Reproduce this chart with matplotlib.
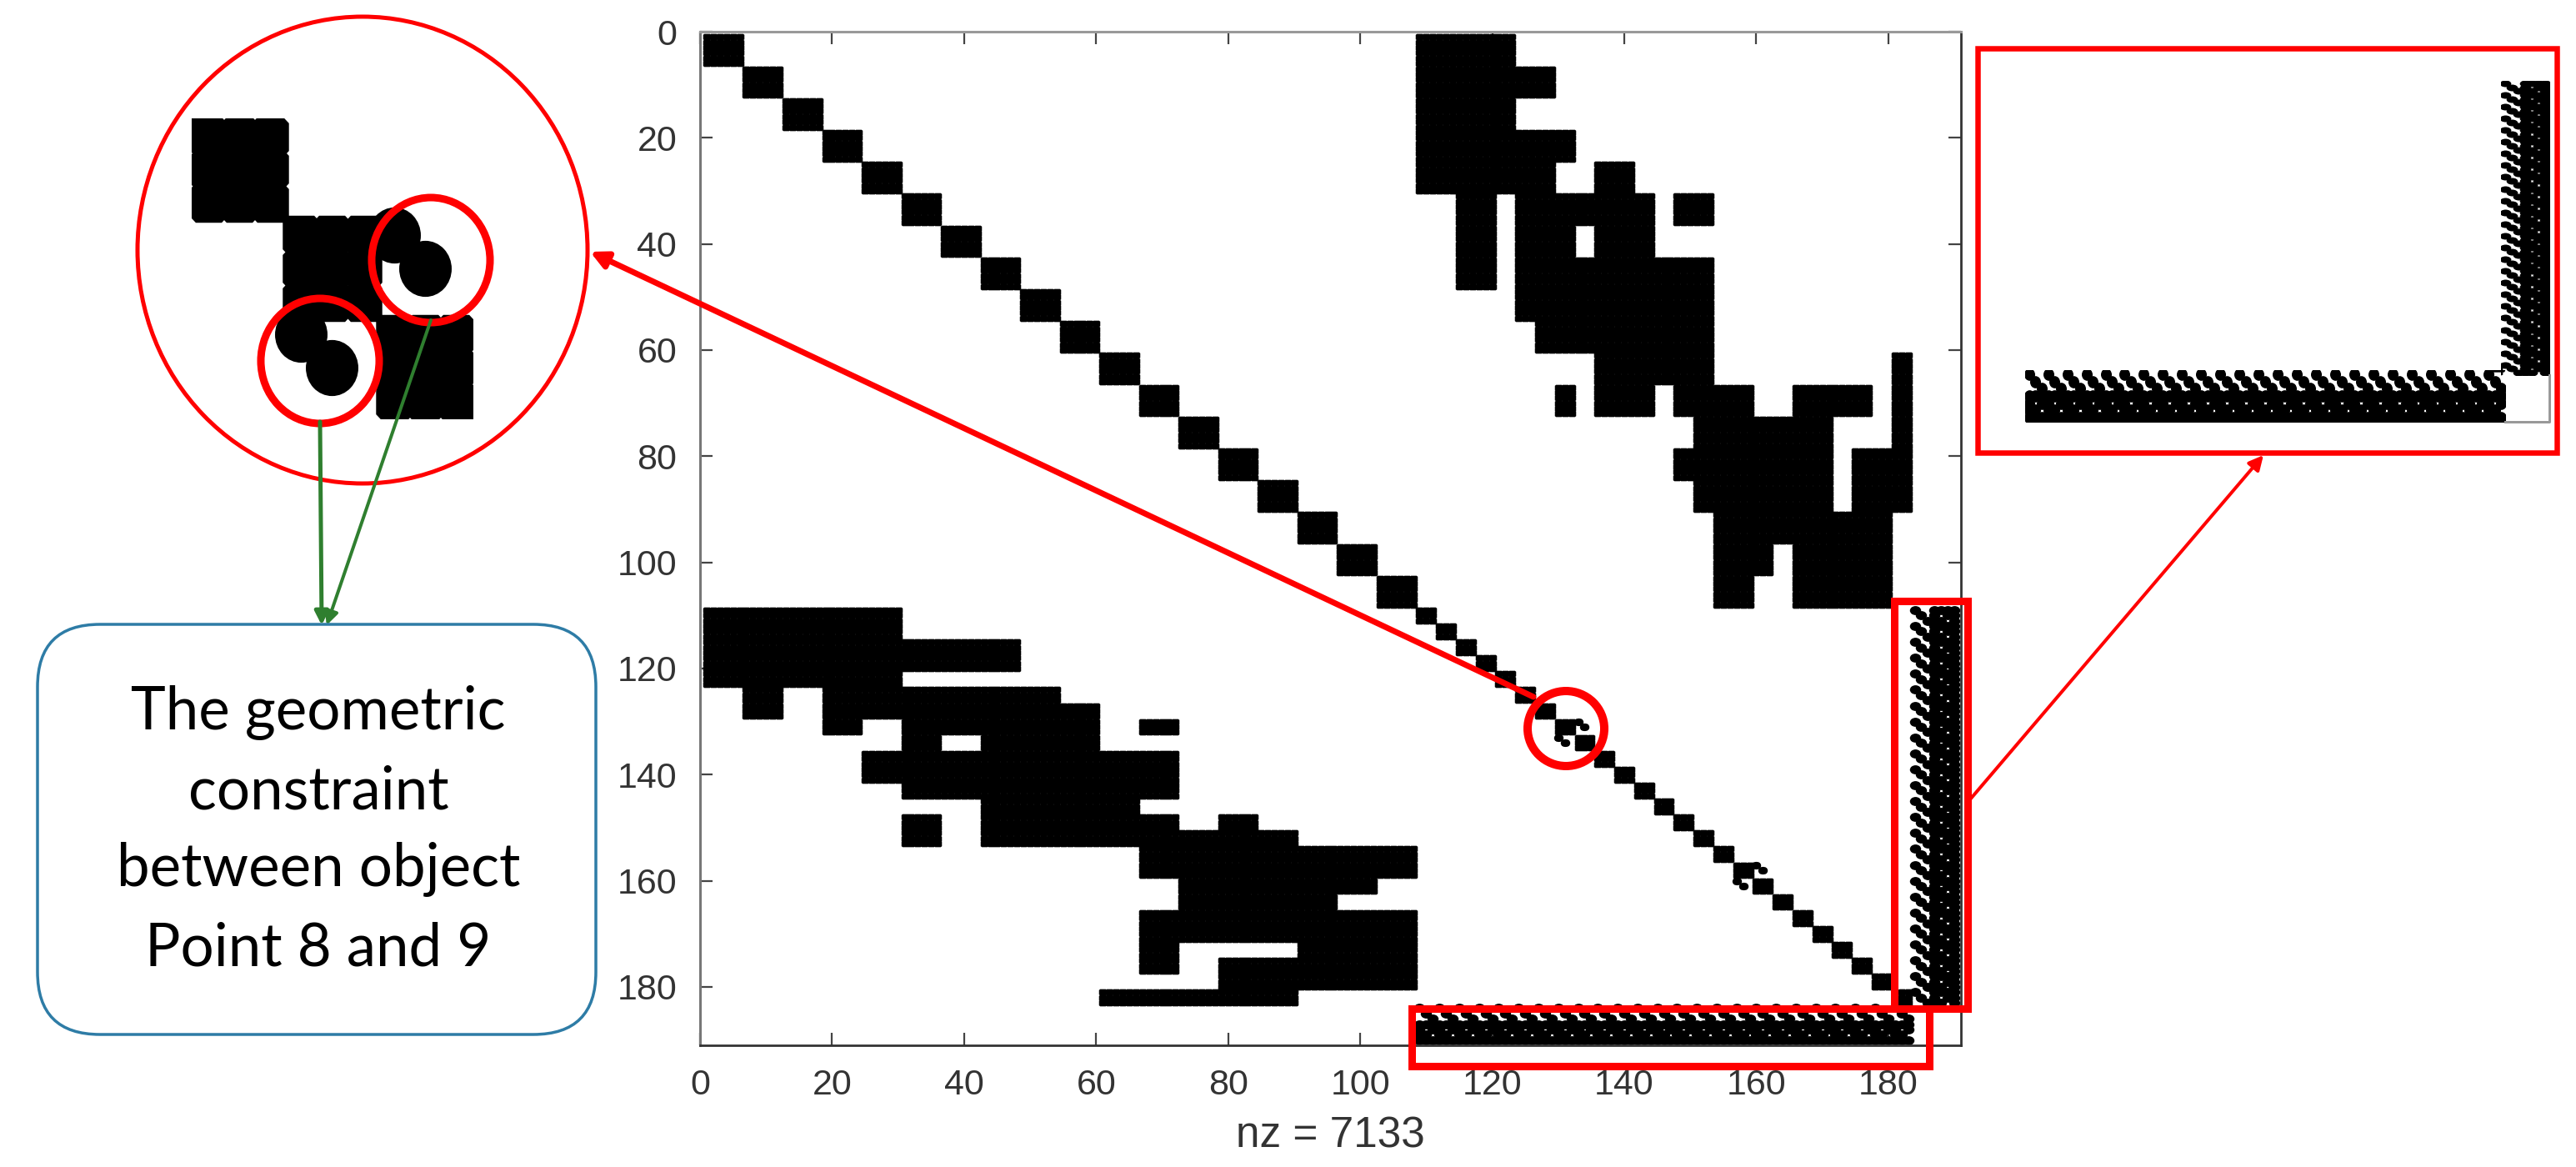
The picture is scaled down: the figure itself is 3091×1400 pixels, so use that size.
import numpy as np
import matplotlib
matplotlib.use("Agg")
import matplotlib.pyplot as plt
from matplotlib.path import Path
from matplotlib.patches import Ellipse, Rectangle, FancyArrowPatch, FancyBboxPatch

W, H = 3091, 1400

# sparsity pattern, 1-based inclusive index ranges
matrix_size = 190
diag_block_sizes = [6] * 18 + [3] * 25
upper_row_ranges = [(1, 30), (7, 12), (19, 24), (25, 30), (31, 48), (25, 30), (31, 54),
                    (43, 66), (31, 36), (55, 60), (61, 72), (61, 66), (67, 72), (67, 72),
                    (67, 72), (61, 90), (73, 90), (79, 84), (79, 90), (91, 96), (97, 102),
                    (103, 108), (97, 108)]
upper_col_ranges = [(109, 123), (124, 129), (124, 132), (124, 129), (115, 120), (136, 141), (124, 144),
                    (145, 153), (148, 153), (127, 144), (136, 144), (145, 147), (148, 159), (130, 132),
                    (166, 177), (181, 183), (151, 171), (148, 150), (175, 183), (154, 180), (154, 162),
                    (154, 159), (166, 180)]
hole_rows = (37, 42)
hole_cols = (133, 135)
coupling_rows = [130, 131, 157, 158]
coupling_cols = [133, 134, 160, 161]
strip_first_row = 109
strip_last_row = 183
strip_first_col = 184
strip_pattern = [[1, 0, 0, 1, 1, 1, 1],
                 [0, 1, 0, 1, 0, 1, 1],
                 [0, 0, 1, 1, 1, 0, 1]]

x_ticks = list(range(0, 181, 20))
y_ticks = list(range(0, 181, 20))
x_label = "nz = 7133"
callout_lines = ["The geometric", "constraint", "between object", "Point 8 and 9"]

# build the matrix
M = np.zeros((matrix_size + 1, matrix_size + 1), dtype=bool)
start = 1
for size in diag_block_sizes:
    M[start:start + size, start:start + size] = True
    start += size
for (r1, r2), (c1, c2) in zip(upper_row_ranges, upper_col_ranges):
    M[r1:r2 + 1, c1:c2 + 1] = True
M[hole_rows[0]:hole_rows[1] + 1, hole_cols[0]:hole_cols[1] + 1] = False
for r, c in zip(coupling_rows, coupling_cols):
    M[r, c] = True
pattern = np.array(strip_pattern, dtype=bool)
for r in range(strip_first_row, strip_last_row + 1):
    row = pattern[(r - strip_first_row) % 3]
    M[r, strip_first_col:strip_first_col + row.size] = row
M = M | M.T
rows, cols = np.nonzero(M)

# cells that look round in the reference: the strips and the small couplings
S = np.zeros_like(M)
S[strip_first_row:strip_last_row + 1, strip_first_col:] = True
S = (S | S.T) & M
strip_rows, strip_cols = np.nonzero(S)
C = np.zeros_like(M)
for r, c in zip(coupling_rows, coupling_cols):
    C[r, c] = True
C = C | C.T
coup_rows, coup_cols = np.nonzero(C)


def px_axes(x0, y0, x1, y1):
    return fig.add_axes([x0 / W, 1 - y1 / H, (x1 - x0) / W, (y1 - y0) / H])


def draw_round(ax, xs, ys, ux, uy, radius):
    circle = Path.unit_circle()
    v = circle.vertices * [ux * radius, uy * radius]
    ms = 2 * np.abs(v).max() * 0.72
    ax.plot(xs, ys, ls="", marker=Path(v, circle.codes), ms=ms, mew=0, color="black")


def draw_spy(ax, xlim, ylim, coup_radius=0.72):
    # rounded cell marker, sized from how many pixels a cell takes in this axes
    bb = ax.get_position()
    ux = bb.width * W / abs(xlim[1] - xlim[0])
    uy = bb.height * H / abs(ylim[1] - ylim[0])
    a, b = 0.6, 0.42
    v = np.array([(a, b), (b, a), (-b, a), (-a, b), (-a, -b), (-b, -a), (b, -a), (a, -b), (a, b)])
    v = v * [ux, uy]
    ms = 2 * np.abs(v).max() * 0.72
    ax.plot(cols, rows, ls="", marker=Path(v, closed=True), ms=ms, mew=0, color="black")
    draw_round(ax, strip_cols, strip_rows, ux, uy, 0.85)
    draw_round(ax, coup_cols, coup_rows, ux, uy, coup_radius)
    ax.set_xlim(xlim)
    ax.set_ylim(ylim)


fig = plt.figure(figsize=(W / 100, H / 100), dpi=100, facecolor="white")

# main spy plot
ax = px_axes(840, 38, 2353, 1254)
draw_spy(ax, (0, 191), (191, 0))
ax.set_xticks(x_ticks)
ax.set_yticks(y_ticks)
ax.tick_params(direction="in", length=10.5, width=1.6, top=True, right=True, color="#444444",
               labelsize=31, labelcolor="#333333", pad=20)
for label in ax.get_xticklabels() + ax.get_yticklabels():
    label.set_fontfamily("Liberation Sans")
ax.set_xlabel(x_label, fontsize=37, color="#333333", family="Liberation Sans", labelpad=12)
ax.spines["left"].set(color="#777777", linewidth=2.2)
ax.spines["top"].set(color="#999999", linewidth=2.2)
ax.spines["right"].set(color="#333333", linewidth=2)
ax.spines["bottom"].set(color="#333333", linewidth=2)

# zoomed copies of the same matrix
ax_zoom = px_axes(230, 142, 567, 502)
ax_strip_b = px_axes(2430, 444, 3006, 506)
ax_strip_r = px_axes(3001, 97, 3059, 450)
draw_spy(ax_zoom, (126.45, 135.55), (135.55, 126.45), coup_radius=0.85)
draw_spy(ax_strip_b, (108.4, 183.6), (190.6, 183.4))
draw_spy(ax_strip_r, (183.4, 190.6), (183.6, 108.4))
for a_ in (ax_zoom, ax_strip_b, ax_strip_r):
    a_.axis("off")

# overlay in pixel coordinates for the annotations
ov = fig.add_axes([0, 0, 1, 1], zorder=10)
ov.set_xlim(0, W)
ov.set_ylim(H, 0)
ov.axis("off")
ov.patch.set_alpha(0)

PX = 0.72
RED = "#ff0000"
GREEN = "#2f7f2f"
BLUE = "#2e7ca6"

ov.add_patch(Ellipse((435, 300), 540, 560, fill=False, ec=RED, lw=5 * PX))
ov.add_patch(Ellipse((517, 312), 142, 150, fill=False, ec=RED, lw=9 * PX))
ov.add_patch(Ellipse((384, 433), 142, 150, fill=False, ec=RED, lw=9 * PX))
ov.add_patch(Ellipse((1879, 874), 92, 90, fill=False, ec=RED, lw=10 * PX))
ov.add_patch(Rectangle((2273, 721), 88, 489, fill=False, ec=RED, lw=9 * PX))
ov.add_patch(Rectangle((1694, 1210), 621, 69, fill=False, ec=RED, lw=9 * PX))
ov.add_patch(Rectangle((2373, 58), 695, 485, fill=False, ec=RED, lw=6.5 * PX))
ov.plot([3059, 3059, 3006], [450, 506, 506], color="#999999", lw=3 * PX)


def arrow(p0, p1, color, lw, scale):
    ov.add_patch(FancyArrowPatch(p0, p1, arrowstyle="-|>", mutation_scale=scale, color=color,
                                 lw=lw * PX, shrinkA=0, shrinkB=0))


arrow((1840, 836), (708, 302), RED, 7, 30)
arrow((2364, 959), (2716, 546), RED, 4, 26)
arrow((384, 506), (386, 750), GREEN, 5, 24)
arrow((517, 384), (392, 750), GREEN, 4, 24)

# callout box
ov.add_patch(FancyBboxPatch((45, 749), 670, 492, boxstyle="round,pad=0,rounding_size=75",
                            fc="white", ec=BLUE, lw=3.5 * PX))
line_y = [855, 950, 1043, 1138]
for text, y in zip(callout_lines, line_y):
    ov.text(382, y, text, ha="center", va="center", fontsize=51, family="Lato", color="black")

fig.savefig("out.png", dpi=100, facecolor="white")
